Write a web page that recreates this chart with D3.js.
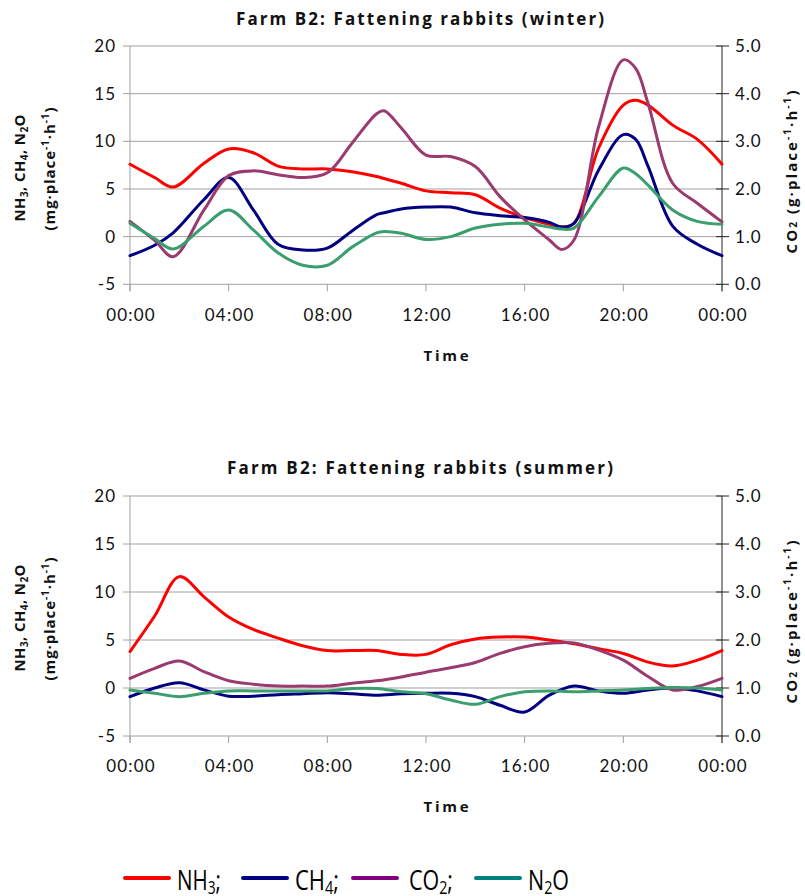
<!DOCTYPE html>
<html><head><meta charset="utf-8">
<script src="https://cdn.jsdelivr.net/npm/d3@7"></script>
<style>
html,body{margin:0;padding:0;background:#fff;}
svg{display:block;font-family:Lato,"Open Sans",sans-serif;}
</style></head>
<body>
<svg id="c" width="805" height="896"></svg>
<script>
// ---- data ----
const xTickHours = [0,4,8,12,16,20,24];
const xTickLabels = ["00:00","04:00","08:00","12:00","16:00","20:00","00:00"];
const leftTicks = [-5,0,5,10,15,20];
const rightTicks = [0,1,2,3,4,5];

const winterHours = [0,1,1.75,3,4,5,6,7,8,9,10,10.3,11,12,13,14,15,16,17,17.5,18,19,20,20.5,21,22,23,24];
const winterNH3 = [7.6,6.2,5.2,7.7,9.2,8.8,7.4,7.1,7.1,6.8,6.3,6.1,5.6,4.8,4.6,4.4,3.0,2.0,1.3,1.0,1.4,9.3,13.8,14.3,13.8,11.7,10.2,7.6];
const winterCH4 = [-2.0,-0.9,0.4,3.9,6.2,2.8,-0.8,-1.4,-1.2,0.6,2.3,2.5,2.9,3.1,3.1,2.5,2.2,2.0,1.5,1.0,1.4,7.0,10.7,10.2,7.4,1.1,-0.8,-2.0];
const winterCO2 = [1.32,0.92,0.58,1.56,2.28,2.38,2.30,2.24,2.34,2.96,3.58,3.64,3.28,2.71,2.68,2.47,1.84,1.35,0.93,0.73,0.93,3.31,4.71,4.53,3.80,2.12,1.70,1.31];
const winterN2O = [1.4,-0.2,-1.3,1.1,2.8,0.7,-1.7,-3.0,-3.0,-1.1,0.4,0.55,0.35,-0.3,0.0,0.9,1.3,1.4,1.0,0.8,0.9,4.2,7.2,6.6,5.4,2.8,1.6,1.3];

const summerHours = [0,1,2,3,4,5,6,7,8,9,10,11,12,13,14,15,16,17,18,19,20,21,22,23,24];
const summerNH3 = [3.8,7.5,11.6,9.5,7.4,6.1,5.2,4.4,3.9,3.9,3.9,3.5,3.5,4.5,5.1,5.3,5.3,5.0,4.6,4.1,3.6,2.7,2.3,2.9,3.9];
const summerCH4 = [-0.9,0.0,0.55,-0.2,-0.85,-0.85,-0.7,-0.6,-0.5,-0.6,-0.75,-0.6,-0.55,-0.55,-0.9,-1.8,-2.5,-0.75,0.2,-0.3,-0.55,-0.2,0.0,-0.3,-0.9];
const summerCO2 = [1.2,1.41,1.56,1.34,1.15,1.08,1.04,1.04,1.04,1.1,1.15,1.23,1.33,1.42,1.53,1.72,1.86,1.93,1.94,1.79,1.58,1.24,0.96,1.03,1.2];
const summerN2O = [-0.2,-0.55,-0.9,-0.55,-0.3,-0.3,-0.3,-0.3,-0.3,-0.05,-0.05,-0.4,-0.6,-1.25,-1.7,-0.9,-0.4,-0.3,-0.4,-0.3,-0.2,-0.05,0.05,0.0,-0.2];

const chartTitles = ["Farm B2: Fattening rabbits (winter)", "Farm B2: Fattening rabbits (summer)"];
const legendNames = [["NH","3",";"],["CH","4",";"],["CO","2",";"],["N","2","O"]];
const lineColors = {NH3:"#ff0000", CH4:"#000080", CO2:"#9b3a6f", N2O:"#3a9e6e"};
const legendColors = ["#ff0000","#000080","#800080","#008080"];

// ---- drawing ----
const svg = d3.select("#c");
const L = 130, R = 722;
const x = d3.scaleLinear().domain([0,24]).range([L,R]);
const BOLD = "'Open Sans','Liberation Sans',sans-serif";

function drawChart(top, bottom, title, titleY, titleLen, hours, nh3, ch4, co2, n2o, xLabY, timeY) {
  const yL = d3.scaleLinear().domain([-5,20]).range([bottom, top]);
  const yR = d3.scaleLinear().domain([0,5]).range([bottom, top]);
  const g = svg.append("g");

  g.selectAll(".grid").data(leftTicks).enter().append("line")
    .attr("x1", L).attr("x2", R).attr("y1", d=>yL(d)).attr("y2", d=>yL(d))
    .attr("stroke", "#a0a0a0").attr("stroke-width", 1);
  g.append("line").attr("x1",L).attr("x2",L).attr("y1",top).attr("y2",bottom+7).attr("stroke","#a0a0a0");
  g.selectAll(".lt").data(leftTicks).enter().append("line")
    .attr("x1",L-7).attr("x2",L).attr("y1",d=>yL(d)).attr("y2",d=>yL(d)).attr("stroke","#a0a0a0");
  g.selectAll(".xt").data(xTickHours).enter().append("line")
    .attr("x1",d=>x(d)).attr("x2",d=>x(d)).attr("y1",bottom).attr("y2",bottom+7).attr("stroke","#a0a0a0");
  g.append("line").attr("x1",R).attr("x2",R).attr("y1",top).attr("y2",bottom+7).attr("stroke","#222");
  g.selectAll(".rt").data(rightTicks).enter().append("line")
    .attr("x1",R-6).attr("x2",R+7).attr("y1",d=>yR(d)).attr("y2",d=>yR(d)).attr("stroke","#222");

  g.selectAll(".ll").data(leftTicks).enter().append("text")
    .attr("x", 116).attr("y", d=>yL(d)).attr("dy","0.36em").attr("text-anchor","end")
    .attr("font-size",17).attr("letter-spacing","1px").attr("fill","#111").text(d=>d);
  g.selectAll(".rl").data(rightTicks).enter().append("text")
    .attr("x", 735).attr("y", d=>yR(d)).attr("dy","0.36em")
    .attr("font-size",17).attr("letter-spacing","1px").attr("fill","#111").text(d=>d3.format(".1f")(d));
  g.selectAll(".xl").data(xTickHours).enter().append("text")
    .attr("x", d=>x(d)+1).attr("y", xLabY).attr("text-anchor","middle")
    .attr("font-size",17).attr("letter-spacing","1.2px").attr("fill","#111")
    .text((d,i)=>xTickLabels[i]);

  g.append("text").attr("x", 420).attr("y", titleY).attr("text-anchor","middle")
    .attr("font-family",BOLD).attr("font-size",17).attr("font-weight","bold").attr("fill","#111")
    .attr("textLength", titleLen).attr("lengthAdjust","spacing").text(title);
  g.append("text").attr("x", 446).attr("y", timeY).attr("text-anchor","middle")
    .attr("font-family",BOLD).attr("font-size",15).attr("font-weight","bold").attr("fill","#111")
    .attr("textLength",45).attr("lengthAdjust","spacing").text("Time");

  const cy = top + 122;
  const lt1 = g.append("text").attr("transform",`translate(25,${cy}) rotate(-90)`).attr("text-anchor","middle")
    .attr("font-family",BOLD).attr("font-size",15).attr("font-weight","bold").attr("fill","#111")
    .attr("textLength",107).attr("lengthAdjust","spacing");
  [["NH",""],["3","sub"],[", CH",""],["4","sub"],[", N",""],["2","sub"],["O",""]].forEach(p=>{
    const t = lt1.append("tspan").text(p[0]);
    if (p[1]==="sub") t.attr("font-size",10).attr("dy",3); else t.attr("dy", p[0]==="NH" ? 0 : -3);
  });
  const lt2 = g.append("text").attr("transform",`translate(55,${cy+1}) rotate(-90)`).attr("text-anchor","middle")
    .attr("font-family",BOLD).attr("font-size",15).attr("font-weight","bold").attr("fill","#111")
    .attr("textLength",123).attr("lengthAdjust","spacing");
  [["(mg·place",""],["-1","sup"],["·h",""],["-1","sup"],[")",""]].forEach(p=>{
    const t = lt2.append("tspan").text(p[0]);
    if (p[1]==="sup") t.attr("font-size",10).attr("dy",-6); else t.attr("dy", p[0]==="(mg·place" ? 0 : 6);
  });
  const rt = g.append("text").attr("transform",`translate(797,${top+126}) rotate(-90)`).attr("text-anchor","middle")
    .attr("font-family",BOLD).attr("font-size",15).attr("font-weight","bold").attr("fill","#111")
    .attr("textLength",163).attr("lengthAdjust","spacing");
  [["CO",""],["2","sub"],[" (g·place","b"],["-1","sup"],["·h",""],["-1","sup"],[")",""]].forEach(p=>{
    const t = rt.append("tspan").text(p[0]);
    if (p[1]==="sub") t.attr("font-size",10).attr("dy",0);
    else if (p[1]==="sup") t.attr("font-size",10).attr("dy",-6);
    else if (p[1]==="b") t.attr("dy",0);
    else if (p[0]!=="CO") t.attr("dy",6);
  });

  const mk = (ys, sc) => d3.line().x((d,i)=>x(hours[i])).y(d=>sc(d)).curve(d3.curveCatmullRom.alpha(0.5))(ys);
  const series = [[nh3,yL,lineColors.NH3],[ch4,yL,lineColors.CH4],[co2,yR,lineColors.CO2],[n2o,yL,lineColors.N2O]];
  series.forEach(s=>{
    g.append("path").attr("d", mk(s[0], s[1])).attr("fill","none").attr("stroke", s[2])
      .attr("stroke-width",3).attr("stroke-linejoin","round").attr("stroke-linecap","round");
  });
}

drawChart(46, 284.3, chartTitles[0], 25, 368, winterHours, winterNH3, winterCH4, winterCO2, winterN2O, 321, 361);
drawChart(496, 736, chartTitles[1], 474, 386, summerHours, summerNH3, summerCH4, summerCO2, summerN2O, 772, 812);

// legend
const legX = [125, 243, 353, 476];
const legTextX = [177, 295, 409, 528];
const legTextLen = [44, 44, 44, 41];
const lg = svg.append("g");
legendNames.forEach((n,i)=>{
  lg.append("line").attr("x1",legX[i]).attr("x2",legX[i]+44).attr("y1",878).attr("y2",878)
    .attr("stroke",legendColors[i]).attr("stroke-width",4).attr("stroke-linecap","round");
  const t = lg.append("text").attr("x",legTextX[i]).attr("y",890)
    .attr("font-family","'Liberation Sans Narrow','Open Sans',sans-serif").attr("font-size",27).attr("fill","#000")
    .attr("textLength", legTextLen[i]).attr("lengthAdjust","spacingAndGlyphs");
  t.append("tspan").text(n[0]);
  t.append("tspan").text(n[1]).attr("font-size",18).attr("dy",4);
  t.append("tspan").text(n[2]).attr("dy",-4);
});
</script>
</body></html>
